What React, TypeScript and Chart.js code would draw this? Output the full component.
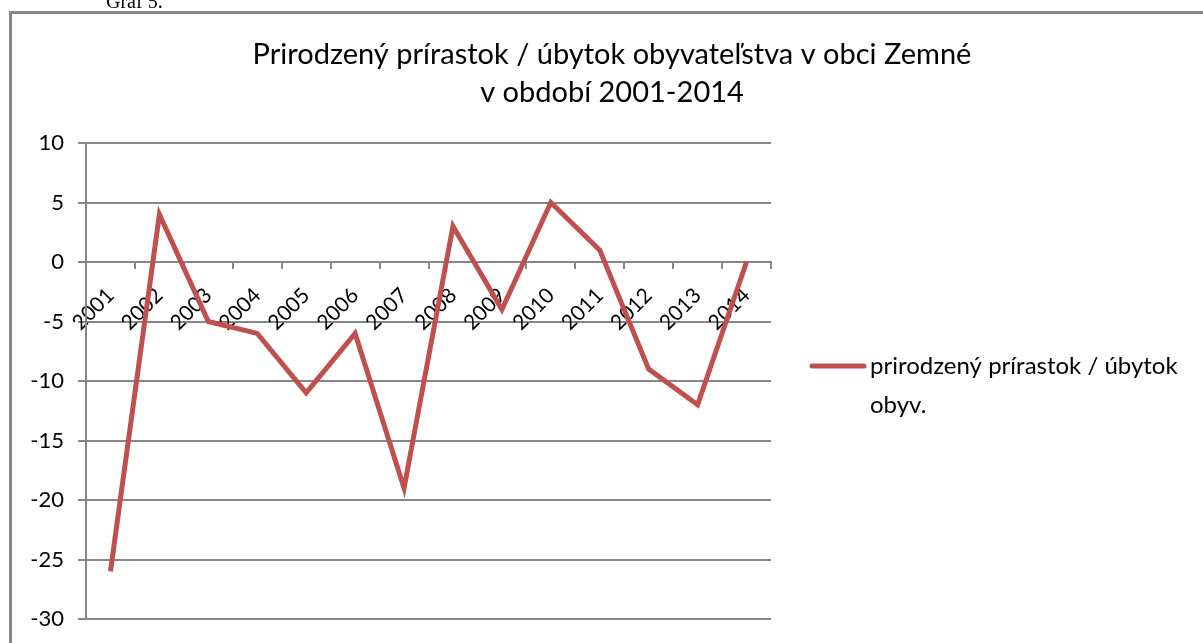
import React, { useEffect, useRef } from "react";
import { Chart, registerables } from "chart.js";

Chart.register(...registerables);

const categories = ["2001", "2002", "2003", "2004", "2005", "2006", "2007", "2008", "2009", "2010", "2011", "2012", "2013", "2014"];
const seriesValues = [-26, 4, -5, -6, -11, -6, -19, 3, -4, 5, 1, -9, -12, 0];
const seriesLabel = "prirodzený prírastok / úbytok obyv.";
const titleLines = ["Prirodzený prírastok / úbytok obyvateľstva v obci Zemné", "v období 2001-2014"];
const yMin = -30;
const yMax = 10;
const yStep = 5;

const FONT = "Lato, 'Open Sans', sans-serif";
const GRID = "#868686";
const LINE = "#C0504D";

const decorPlugin = {
  id: "decor",
  beforeDraw(chart: any) {
    const ctx = chart.ctx;
    ctx.save();
    ctx.fillStyle = "#ffffff";
    ctx.fillRect(0, 0, chart.width, chart.height);
    ctx.strokeStyle = GRID;
    ctx.lineWidth = 3;
    ctx.beginPath();
    ctx.moveTo(10.5, chart.height + 5);
    ctx.lineTo(10.5, 12.5);
    ctx.lineTo(chart.width + 5, 12.5);
    ctx.stroke();
    ctx.restore();
  },
  afterDraw(chart: any) {
    const ctx = chart.ctx;
    ctx.save();
    // title
    ctx.fillStyle = "#000000";
    ctx.font = `29px ${FONT}`;
    ctx.textAlign = "center";
    ctx.textBaseline = "middle";
    ctx.fillText(titleLines[0], 612, 55);
    ctx.fillText(titleLines[1], 612, 93);
    // legend
    const ds = chart.data.datasets[0];
    const ly = 366;
    ctx.strokeStyle = ds.borderColor;
    ctx.lineWidth = 5;
    ctx.lineCap = "round";
    ctx.beginPath();
    ctx.moveTo(812, ly);
    ctx.lineTo(864, ly);
    ctx.stroke();
    ctx.font = `24px ${FONT}`;
    ctx.textAlign = "left";
    const maxW = chart.width - 870 - 8;
    const words = String(ds.label).split(" ");
    const lines: string[] = [];
    let cur = "";
    for (const w of words) {
      const t = cur ? cur + " " + w : w;
      if (ctx.measureText(t).width > maxW && cur) {
        lines.push(cur);
        cur = w;
      } else cur = t;
    }
    if (cur) lines.push(cur);
    lines.forEach((l, i) => ctx.fillText(l, 870, ly + i * 39));
    ctx.restore();
  },
};

export default function App() {
  const ref = useRef<HTMLCanvasElement | null>(null);
  useEffect(() => {
    if (!ref.current) return;
    const chart = new Chart(ref.current, {
      type: "line",
      data: {
        labels: categories,
        datasets: [
          {
            label: seriesLabel,
            data: seriesValues,
            borderColor: LINE,
            backgroundColor: LINE,
            borderWidth: 5,
            pointRadius: 0,
            tension: 0,
            fill: false,
          },
        ],
      },
      options: {
        animation: false,
        responsive: false,
        layout: { padding: { top: 143, left: 0, right: 432, bottom: 24 } },
        plugins: {
          legend: { display: false },
          title: { display: false },
          tooltip: { enabled: false },
        },
        scales: {
          x: {
            type: "category",
            position: { y: 0 } as any,
            offset: true,
            grid: {
              display: true,
              drawOnChartArea: false,
              drawTicks: true,
              tickLength: 6,
              color: GRID,
              lineWidth: 2,
              offset: true,
            },
            border: { display: true, color: GRID, width: 2 },
            ticks: {
              autoSkip: false,
              minRotation: 45,
              maxRotation: 45,
              padding: 15,
              color: "#000000",
              font: { family: FONT, size: 21 },
            },
            afterFit: (s: any) => {
              s.height = 0;
              s.paddingLeft = 0;
              s.paddingRight = 0;
            },
          },
          y: {
            min: yMin,
            max: yMax,
            ticks: {
              stepSize: yStep,
              padding: 14,
              color: "#000000",
              font: { family: FONT, size: 22 },
            },
            grid: {
              color: GRID,
              lineWidth: 2,
              drawTicks: true,
              tickLength: 8,
            },
            border: { display: true, color: GRID, width: 2 },
            afterFit: (s: any) => {
              s.width = 86;
              s.paddingTop = 0;
              s.paddingBottom = 0;
            },
          },
        },
      },
      plugins: [decorPlugin],
    });
    return () => chart.destroy();
  }, []);
  return (
    <div style={{ position: "fixed", left: 0, top: 0, width: 1203, height: 643, overflow: "hidden", background: "#fff" }}>
      <canvas ref={ref} width={1203} height={643} style={{ position: "absolute", left: 0, top: 0, width: 1203, height: 643 }} />
      <div style={{ position: "absolute", left: 106, top: -10, fontFamily: "'Liberation Serif', 'DejaVu Serif', serif", fontSize: 20, lineHeight: "22px", color: "#000", whiteSpace: "nowrap" }}>
        Graf 5.
      </div>
    </div>
  );
}
